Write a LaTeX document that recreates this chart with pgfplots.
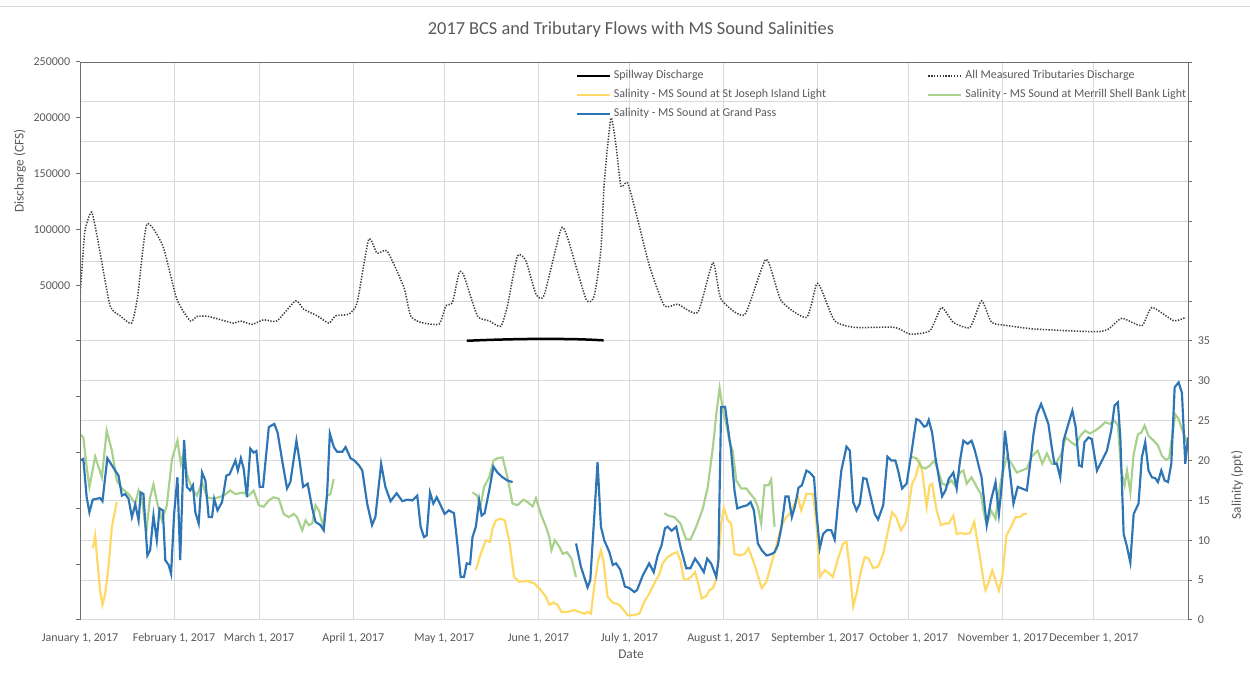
\documentclass[border=0pt]{standalone}
\usepackage{fontspec}
\setmainfont{Carlito}
\usepackage{pgfplots}
\pgfplotsset{compat=1.18}
\usepackage{pgfplotstable}

\definecolor{txtgray}{HTML}{595959}
\definecolor{axgray}{HTML}{6E6E6E}
\definecolor{gridgray}{HTML}{D9D9D9}
\definecolor{stjoe}{HTML}{FFD966}
\definecolor{merrill}{HTML}{A9D18E}
\definecolor{grandpass}{HTML}{2E75B6}
\definecolor{tribs}{HTML}{3A3A3A}

\pgfplotsset{
  chartbox/.style={
    scale only axis, width=664.8pt, height=334.8pt,
    at={(48pt,36.6pt)}, anchor=south west,
    xmin=0, xmax=365,
    axis line style={draw=none},
    tick label style={font=\fontsize{7.2}{8.6}\selectfont, text=txtgray},
    major tick length=2.4pt,
    unbounded coords=jump,
    legend cell align=left,
    legend image code/.code={\draw[##1] (0pt,0pt) -- (19.8pt,0pt);},
    legend style={draw=none, fill=none, anchor=north west, inner sep=0pt,
      font=\fontsize{7.2}{8.6}\selectfont, text=txtgray, row sep=4pt,
      nodes={inner ysep=0pt, inner xsep=1.8pt, text height=5.4pt, text depth=2pt}},
  },
}

% day of year (0 = Jan 1) and discharge in CFS
\pgfplotstableread{
day q
0 40000
1.1 82000
1.7 100000
3.9 115500
6.6 79500
9.9 31500
13.2 22600
17 16000
19 40000
22 104500
27.3 85000
31.9 37500
36.3 18000
38.5 22000
42.3 22000
50.6 16000
52.8 18000
56.7 15000
60.5 19000
64.9 18000
71 36000
73.7 28500
78.1 22600
82 16000
84.2 22600
88.5 24000
91.3 34500
95.1 91000
97.9 78500
101.2 80500
106.7 48000
108.9 22600
112.2 16700
118.3 15200
120.5 31500
122.7 34500
124.9 61300
126.5 58300
130.9 22600
134.8 18100
138.6 13100
140.8 31500
144.1 76200
146.9 71700
150.2 42000
152.9 41100
158.4 100000
160.6 92600
166.7 37500
169.4 40400
171.6 82000
172.7 141700
174.9 199700
176.6 174400
178.2 138700
180.4 141700
183.7 109000
187.6 67200
192.5 31500
196.9 33000
203.5 25600
208.5 70300
211.2 37500
218.9 23500
226 73200
231 36000
239.3 21100
242.6 50900
244.2 46400
248.6 18100
255.2 12200
268.4 12200
273.4 6200
280 9200
283.8 30000
287.7 16700
293.2 12200
297 36000
300.3 16700
305.8 13700
314.6 10700
334.4 8300
338.8 10700
343.2 20300
349.8 13700
353.1 30000
360.3 18100
364.1 21100
}\tribtable

\pgfplotstableread{
day q
127.4 200
135 1000
145 1700
155 1900
165 1500
172.5 600
}\spilltable

% salinity, ppt
\pgfplotstableread{
day s
4.2 9
5 10.6
5.7 7.5
6.6 3.75
7.4 1.9
8.3 3.3
9.4 6.7
10.5 11.7
12.1 14.8
60 nan
130.4 6.25
132 8.3
133.7 10
135.1 9.8
135.9 11.5
137 12.5
138.6 12.7
139.9 12.5
141.4 10
143 5.4
144.7 4.8
147.4 4.9
149.6 4.6
151.8 3.75
153.5 2.9
154.6 1.9
156 2.2
157.3 1.9
158.6 1
160.6 1
162.8 1.25
164.5 1
166.1 0.8
167.2 1
168.3 0.8
169.4 4.2
170.7 7.5
171.6 8.75
172.5 7.3
173.8 2.9
175.5 2.2
177.7 1.9
179.1 1.25
180.4 0.6
182.1 0.6
184.3 0.8
185.9 2.3
187.5 3.3
189.2 4.6
190.9 5.8
191.9 7.1
193.6 7.9
195.3 8.3
196.7 8.5
197.8 7.5
198.9 5.1
200.2 5.1
201.3 5.4
202.6 6
203.5 4.8
204.8 2.7
206.3 3
207.4 3.75
208.5 4
209.6 5.2
210.3 7.3
211.2 12.1
212.1 14
213.4 12.5
214.5 12.1
215.6 8.3
217.3 8.1
218.9 8.3
220.2 9
221.7 7.5
223.3 5.6
224.6 4
226.1 4.8
227.5 6.7
229 8.75
231 11.7
232.3 12.7
234.1 13.5
235.4 14.6
236.5 15.4
237.6 13.75
239.3 15.8
241.5 15.8
242.6 12.1
243.7 5.4
245.3 6.25
246.6 5.9
248 5.4
249.7 7.7
251.4 9.6
252.5 9.8
253.6 6.25
254.7 1.7
255.8 3.3
257.2 6
258.5 7.9
259.8 7.7
261.3 6.5
262.9 6.7
264.6 8.3
266.2 11.25
267.5 13.5
268.9 12.9
270.4 11.25
271.9 12.1
273 14.2
274.1 17.1
275.2 17.9
276.6 19.8
277.4 18.75
278.9 14.2
279.9 16.9
280.7 17.1
282.2 13.75
283.6 11.9
284.9 12.1
286.2 12.1
287.7 13.1
288.8 10.8
290.2 10.9
291.5 10.8
293.2 10.9
294.6 12.3
295.7 9.6
296.8 7.1
297.6 5
298.3 3.75
299.4 4.8
300.5 6.25
301.6 5
302.7 3.7
303.8 5.4
305.2 10.6
306.7 11.7
308.2 12.9
309.7 12.9
310.8 13.3
311.9 13.3
}\stjoetable

\pgfplotstableread{
day s
0 23.3
1.1 22.9
2.2 19.2
3.1 16.7
5 20.5
7.2 17.9
8.8 23.75
10.5 21.25
12.1 17.5
13.8 16.5
16 15.8
18.2 14.6
19.3 16.25
20.4 15.2
21.8 11
23.1 15.4
24.2 17
25.5 14.6
27 12.5
28.6 14.4
30.3 20.2
32.1 22.5
33.2 19.6
34.3 21.25
35.2 18.3
36.9 16.5
38.5 15.6
40.2 17.3
41.8 15.4
44 15.2
47.3 15.6
49.5 16.25
51.2 15.8
53.9 16
55.6 15.6
57.2 16.25
58.9 14.4
60.5 14.2
62.2 15
63.8 15.4
65.5 15.2
67.1 13.3
68.8 12.9
70.4 13.3
71.5 12.9
73.2 11.25
74.3 12.5
75.4 11.9
76.5 12.1
77.6 14.4
78.7 13.75
80.1 11.7
81.4 15.6
82.5 15.8
83.6 17.7
100 nan
129.3 16
130.9 15.6
131.8 14
133.1 16.7
134.8 17.9
136.2 20
137.5 20.3
139.2 20.4
140.8 17.9
142.5 14.6
144.1 14.4
146.1 15.1
147.4 14.8
149.1 14.25
150.2 15.3
151.8 13.3
153.5 11.7
154.6 10.4
155.3 8.75
156.4 10
157.9 9.2
159 8.3
160.4 8.5
161.9 7.7
163.4 5.4
180 nan
192.5 13.4
193.8 13.1
195.8 12.9
197.8 12.1
199.7 10.1
201.1 10.1
203 11.7
205.2 14
206.8 16.7
208.5 21.7
209.6 25.8
210.7 29.1
211.8 26.25
212.9 24.6
214 22.3
215 21.25
216.2 17.5
217.8 16.5
219.5 16.5
220.9 15.8
222.2 15.2
223.3 14.2
224.4 12.1
225.5 16.9
226.8 16.9
227.7 17.6
228.3 14.2
228.8 11.7
250 nan
273.5 20.5
275.5 20.3
277.2 19.2
278.5 19
280 19.4
281.4 20
282.7 18.75
284 17.1
285.5 16.9
287.1 17.5
288.2 16.9
289.9 18.5
291 18.75
292.1 17.1
293.7 17.9
295.4 16.7
296.8 15.8
297.6 13.75
298.7 11.9
300.1 13.75
301.6 12.7
302.7 16
303.8 18.3
305.3 20.4
306.9 19.6
308.6 18.5
310.2 18.75
311.9 19
313.5 20.5
315.5 21.25
317 19.6
318.5 20.9
320.1 19.6
321.4 19.6
323.2 20.8
324.7 22.9
326.5 22.3
328 21.9
329.5 23.1
331.1 23.75
332.7 23.4
334.4 23.75
336 24.2
337.7 24.8
339.4 24.6
340.8 25
341.9 24.4
343 18.75
344.1 16.9
344.9 18.75
346 16
347.1 20.8
348.5 23.3
349.6 23.5
350.7 24.4
352 23.1
353.7 22.5
355.1 21.9
356.4 20.6
357.7 20.1
358.8 20.3
359.7 22.9
360.8 25.8
361.9 25.2
363.2 23.75
364.7 22.3
}\merrilltable

\pgfplotstableread{
day s
0 20
1.1 20.2
2.2 15.4
3.1 13.5
4.2 15.1
6.6 15.3
7.4 14.9
9 20.3
11.6 18.75
12.7 18.1
13.8 15.6
14.9 15.8
16 15.2
17.1 12.9
18.2 14.5
19.3 12.5
20 16
20.9 15.8
22.2 8.1
23.1 8.75
24.2 13.1
25.3 10
26.2 14
27.3 13.75
28.1 7.5
29.2 6.9
30 5.8
31 13.3
32.1 17.9
33 7.5
34.3 22.6
35.2 16.7
36.3 16.25
37.2 16.9
38 13.5
39.1 12.1
40.2 18.5
41.3 17.5
42.4 12.9
43.5 12.9
44.2 15.2
45.3 13.75
46.8 14.8
48.2 18.1
49.3 18.3
51.2 20
52 18.75
53 20.3
53.9 19
55 15.4
56.1 21.5
57.2 21
58.1 21.2
59.2 16.7
60.3 16.7
62.2 24.2
64 24.6
65.1 23.5
66.6 20
68.2 16.5
69.3 17.3
71.3 22.5
72.4 19.8
73.5 16.7
75 17.1
76.5 14
77.6 12.3
79.2 11.9
80.3 11.25
81.4 15.8
82.3 23.4
83.6 21.7
84.7 21.1
86.4 21.1
87.5 21.7
89.1 20.3
90.4 20
91.9 19.4
93 18.75
94.6 14.6
96.2 11.9
97.3 12.9
99.2 19.6
100.6 16.7
102.3 14.9
104.3 15.9
106.2 14.9
107.8 15.1
109.5 15
111.1 15.6
112.2 11.7
113.3 10.4
114.2 10.6
115.3 16
116.4 14.6
117.5 15.4
118.8 14.4
120.1 13.3
121.5 13.75
123.2 13.4
124.3 9.6
125.4 5.4
126.5 5.4
127.4 7.1
128.5 7
129.3 10.4
130.4 11.7
131.5 15
132.3 13.1
133.3 13.4
134.8 16.25
136.2 19.25
137.5 18.5
139.2 17.9
140.8 17.5
142.5 17.3
150 nan
163.4 9.6
165 6.7
167.2 4.1
168.1 5
169.2 11.7
170.5 19.8
171.6 11.7
172.7 10
174.4 8.5
175.5 6.9
176.6 7.1
178 6.3
179.5 4.2
181 4
182.6 3.5
183.5 3.75
185.4 5.6
187.5 7.1
189 6
190.3 8.1
191.6 9.4
192.7 11.5
193.6 11.7
194.9 11.2
196.4 11.7
197.8 9.2
199.7 6.5
201.1 6.5
202.6 7.7
204.1 6.9
205.5 6
206.6 7.7
207.9 7.1
209.6 5.4
210.3 7.5
211.2 26.7
212.5 26.75
213.4 24.2
214.5 21.25
215.6 16.25
216.5 14
218 14.2
219.8 14.4
220.9 14.8
222 13.75
223.3 9.6
224.6 8.75
226.1 8.1
227.7 8.25
228.8 8.5
229.9 9.4
231 11.5
232.4 15.5
233.4 15.5
234.5 12.9
235.6 14.4
236.7 16.6
237.8 16.9
239.3 18.75
240.4 18.5
241.8 17.9
242.6 13.5
243.7 9
244.8 10.8
246.2 11.3
247.5 11.25
248.6 10.1
249.7 14.6
250.8 18.75
252.5 21.75
253.6 21.25
254.7 14.8
255.8 13.75
256.9 14.6
258 17.8
259.1 17.7
260.5 15.4
261.8 13.3
262.9 12.6
264.6 14.4
266 20.5
267.3 20
268.6 20
269.5 18.75
270.8 16.5
272.3 17.1
273.9 21
275.5 25.2
276.6 25
278.1 24.25
278.9 24.4
279.6 25.1
280.7 23.5
281.8 20.4
282.9 17.9
284 15.5
285.1 16.25
286.2 17.7
287.7 18.5
288.8 16.5
289.9 20
291 22.5
292.4 22.1
293.7 22.5
294.8 21.25
297 17.9
298.7 11.9
300.1 15
301.6 17.3
302.7 13.3
303.8 17.5
304.7 23.75
306 19.6
307.5 14.6
308.9 16.7
310.2 16.5
311.9 16.25
313 19.6
314.1 23.3
315.2 25.8
316.6 27.1
317.9 25.8
319 24.6
320.1 21.7
321 19.6
321.8 19.6
322.9 17.9
324 22.5
325.6 24.6
326.9 26.25
328 24.2
329.1 19.4
330 19.25
330.9 22.3
332.2 22.9
333.3 22.7
335 18.75
336.4 19.8
338.3 21.25
339.7 23.75
340.8 26.9
341.9 27.3
342.7 22.9
343.8 10.8
344.9 9.2
346 7.2
347.1 13.3
348.7 14.6
349.8 20.4
350.9 22.3
352 18.75
353.1 17.9
354.2 17.8
355.1 17.3
356.2 18.75
357.3 17.5
358.4 17.3
359.5 19.6
360.6 29.2
361.9 29.8
363 28.5
364.1 19.6
365 22.9
}\grandpasstable

\begin{document}
\begin{tikzpicture}
\useasboundingbox (0pt,0pt) rectangle (750pt,408.6pt);
\draw[gridgray, line width=0.6pt] (0pt,404.4pt) -- (750pt,404.4pt);

% salinity axis (right), carries the grid and the date labels
\begin{axis}[chartbox, name=sal,
  ymin=0, ymax=70,
  xtick={0,31,59,90,120,151,181,212,243,273,304,334},
  xticklabels={{January 1, 2017},{February 1, 2017},{March 1, 2017},{April 1, 2017},{May 1, 2017},{June 1, 2017},{July 1, 2017},{August 1, 2017},{September 1, 2017},{October 1, 2017},{November 1, 2017},{December 1, 2017}},
  xtick style={draw=none},
  xticklabel style={yshift=-2pt},
  xmajorgrids, ymajorgrids,
  major grid style={gridgray, line width=0.6pt},
  ytick={0,5,10,15,20,25,30,35,40,45,50,55,60,65,70},
  yticklabels={0,5,10,15,20,25,30,35,,,,,,,},
  ytick pos=right, yticklabel pos=right, tick align=outside,
  ytick style={axgray, line width=0.6pt},
  legend style={at={(axis description cs:0.4468,0.9865)}},
]
\addplot[stjoe, line width=1.3pt, forget plot] table {\stjoetable};
\addplot[merrill, line width=1.3pt, forget plot] table {\merrilltable};
\addplot[grandpass, line width=1.3pt, forget plot] table {\grandpasstable};
\addlegendimage{black, line width=1.5pt}
\addlegendentry{Spillway Discharge}
\addlegendimage{stjoe, line width=1.3pt}
\addlegendentry{Salinity - MS Sound at St Joseph Island Light}
\addlegendimage{grandpass, line width=1.3pt}
\addlegendentry{Salinity - MS Sound at Grand Pass}
\end{axis}

% discharge axis (left)
\begin{axis}[chartbox, name=dis,
  ymin=-250000, ymax=250000,
  xtick=\empty,
  ytick={-250000,-200000,-150000,-100000,-50000,0,50000,100000,150000,200000,250000},
  yticklabels={,,,,,,50000,100000,150000,200000,250000},
  scaled y ticks=false,
  ytick pos=left, tick align=outside,
  ytick style={axgray, line width=0.6pt},
  legend style={at={(axis description cs:0.7644,0.9865)}},
]
\addplot[tribs, line width=0.9pt, dash pattern=on 0.8pt off 0.9pt, smooth, tension=0.35, forget plot] table {\tribtable};
\addplot[black, line width=1.5pt, smooth, forget plot] table {\spilltable};
\addlegendimage{tribs, line width=0.9pt, dash pattern=on 0.8pt off 0.9pt}
\addlegendentry{All Measured Tributaries Discharge}
\addlegendimage{merrill, line width=1.3pt}
\addlegendentry{Salinity - MS Sound at Merrill Shell Bank Light}
\end{axis}

\draw[axgray, line width=0.6pt] (sal.south west) -- (sal.north west) -- (sal.north east) -- (sal.south east);

\node[text=txtgray, font=\fontsize{11}{13.2}\selectfont] at (378.6pt,390.6pt) {2017 BCS and Tributary Flows with MS Sound Salinities};
\node[text=txtgray, font=\fontsize{8}{9.6}\selectfont] at (378.6pt,16.2pt) {Date};
\node[text=txtgray, font=\fontsize{8}{9.6}\selectfont, rotate=90] at (12pt,306pt) {Discharge (CFS)};
\node[text=txtgray, font=\fontsize{8}{9.6}\selectfont, rotate=90] at (742.2pt,117.6pt) {Salinity (ppt)};
\end{tikzpicture}
\end{document}
